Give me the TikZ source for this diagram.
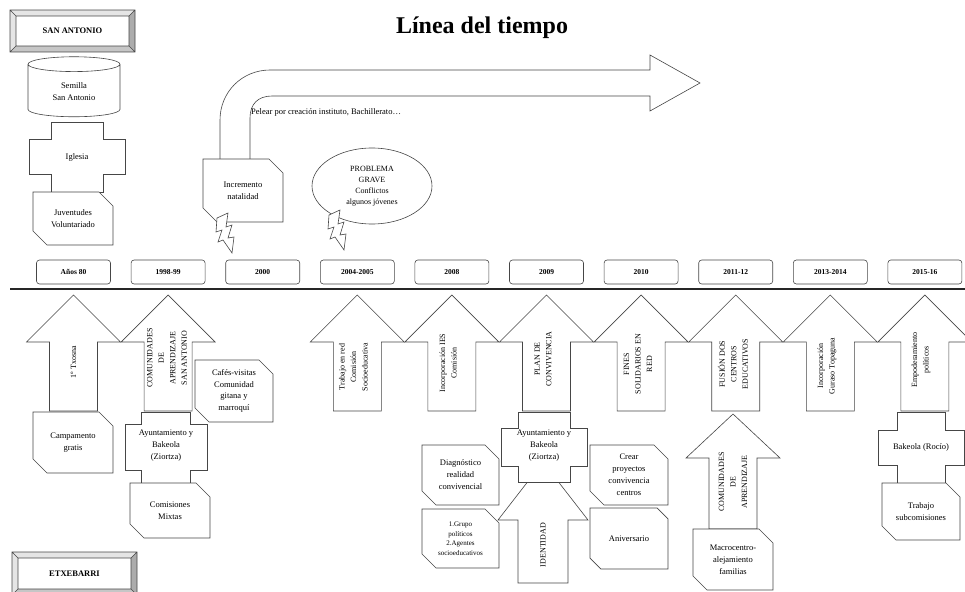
\documentclass[tikz,border=0pt]{standalone}
\usepackage{fontspec}
\setmainfont{Liberation Serif}
\usetikzlibrary{shapes.geometric, shapes.misc, positioning}
\definecolor{edgegray}{RGB}{70,70,70}

% block arrow pointing up: cx, apex, head base, bottom, head half, shaft half
\newcommand{\upblock}[6]{%
  \draw[blockline] (#1,#2) -- (#1+#5,#3) -- (#1+#6,#3) -- (#1+#6,#4) -- (#1-#6,#4) -- (#1-#6,#3) -- (#1-#5,#3) -- cycle;}
% plus-like box: cx, cy, half width, half height, stem half, arm half
\newcommand{\crossblock}[6]{%
  \draw[blockline] (#1-#5,#2-#4) -- (#1+#5,#2-#4) -- (#1+#5,#2-#6) -- (#1+#3,#2-#6) -- (#1+#3,#2+#6) -- (#1+#5,#2+#6) -- (#1+#5,#2+#4) -- (#1-#5,#2+#4) -- (#1-#5,#2+#6) -- (#1-#3,#2+#6) -- (#1-#3,#2-#6) -- (#1-#5,#2-#6) -- cycle;}
% bevelled button: name, x1, y1, x2, y2, text
\newcommand{\bevelbox}[6]{%
  \fill[gray!20] (#2,#3) rectangle (#4,#5);
  \fill[gray!65] (#4,#3) -- (#4,#5) -- (#4-6,#5-6) -- (#4-6,#3+6) -- cycle;
  \fill[gray!45] (#2,#5) -- (#4,#5) -- (#4-6,#5-6) -- (#2+6,#5-6) -- cycle;
  \fill[white] (#2+6,#3+6) rectangle (#4-6,#5-6);
  \draw[edgegray, line width=0.6pt] (#2,#3) rectangle (#4,#5) (#2+6,#3+6) rectangle (#4-6,#5-6)
    (#2,#3) -- (#2+6,#3+6) (#4,#3) -- (#4-6,#3+6) (#2,#5) -- (#2+6,#5-6) (#4,#5) -- (#4-6,#5-6);
  \node[font=\bfseries\fontsize{8.5}{10}\selectfont] (#1) at ({(#2+#4)/2},{(#3+#5)/2}) {#6};}

\begin{document}
\begin{tikzpicture}[x=1pt, y=-1pt,
    font=\fontsize{8.5}{12}\selectfont,
    blockline/.style={draw=edgegray, line width=0.6pt, fill=white},
    snipbox/.style={chamfered rectangle, chamfered rectangle corners={north east, south west}, chamfered rectangle sep=7pt, draw=edgegray, line width=0.6pt, fill=white, align=center, inner sep=1pt},
    yearbox/.style={rectangle, rounded corners=3pt, draw=edgegray, line width=0.6pt, minimum width=74pt, minimum height=24pt, font=\bfseries\fontsize{7.5}{9}\selectfont},
    vtext/.style={rotate=90, align=center, inner sep=0pt, font=\fontsize{8}{11.5}\selectfont},
    boxtext/.style={align=center, inner sep=0pt},
    bolt/.pic={\draw[blockline] (0,5) -- (11,0) -- (9,14) -- (15,12) -- (11,25) -- (17,24) -- (15,40) -- (6,27) -- (1,29) -- (5,17) -- (-1,19) -- cycle;}
]
\useasboundingbox (0,0) rectangle (965,591);

% title
\node[font=\bfseries\fontsize{24}{28}\selectfont] (title) at (482,28) {Línea del tiempo};

% San Antonio column
\bevelbox{sanantonio}{10}{10}{135}{52}{SAN ANTONIO}
\node[cylinder, shape border rotate=90, aspect=0.3, draw=edgegray, line width=0.6pt, fill=white, minimum width=92, minimum height=60, align=center] (semilla) at (74,92) {Semilla\\San Antonio};
\crossblock{77}{157}{48}{35}{26}{17.5}
\node[boxtext] (iglesia) at (77,157) {Iglesia};
\node[snipbox, minimum width=80, minimum height=53] (juventudes) at (73,218.5) {Juventudes\\Voluntariado};

% bent arrow
\draw[blockline] (220,160) -- (220,120) .. controls (220,92) and (242,70) .. (270,70) -- (650,70) -- (650,55) -- (700,83) -- (650,111) -- (650,96) -- (272,96) .. controls (258,96) and (250,104) .. (250,118) -- (250,160) -- cycle;
\node[anchor=west, inner sep=0pt] (pelear) at (251,112) {Pelear por creación instituto, Bachillerato…};
\node[snipbox, minimum width=80, minimum height=63] (natalidad) at (243,190.5) {Incremento\\natalidad};
\node[ellipse, draw=edgegray, line width=0.6pt, fill=white, minimum width=120, minimum height=76, align=center, inner sep=0pt, font=\fontsize{8}{11}\selectfont] (problema) at (372,186) {PROBLEMA\\GRAVE\\Conflictos\\algunos jóvenes};
\pic at (217,213) {bolt};
\pic at (329,210) {bolt};

% years
\foreach \yr [count=\i] in {Años 80, 1998-99, 2000, 2004-2005, 2008, 2009, 2010, 2011-12, 2013-2014, 2015-16}
  \node[yearbox] (year\i) at ({73.5+94.6*(\i-1)},272) {\yr};

% timeline
\coordinate (tlstart) at (10,289);
\coordinate (tlend) at (965,289);
\draw[line width=2.5pt, black!85] (tlstart) -- (tlend);

% arrows under the years
\foreach \i in {1,2,4,5,6,7,8,9,10}{
  \pgfmathsetmacro\cx{73.5+94.6*(\i-1)}
  \upblock{\cx}{295}{342}{411}{47}{24}
}
\node[vtext] (txosna) at (73.5,362) {1º Txosna};
\node[vtext] (comunidades1) at (167,358) {COMUNIDADES\\DE\\APRENDIZAJE\\SAN ANTONIO};
\node[vtext] (redcomision) at (353.5,367) {Trabajo en red\\Comisión\\Socioeducativa};
\node[vtext] (ies) at (448,363) {Incorporación IES\\Comisión};
\node[vtext] (plan) at (543,359) {PLAN DE\\CONVIVENCIA};
\node[vtext] (fines) at (638,364) {FINES\\SOLIDARIOS EN\\RED};
\node[vtext] (fusion) at (733,364) {FUSIÓN DOS\\CENTROS\\EDUCATIVOS};
\node[vtext] (guraso) at (827,366) {Incorporación\\Guraso Topaguna};
\node[vtext] (empoderamiento) at (921,360) {Empoderamiento\\políticos};

% Años 80 and 1998-99
\node[snipbox, minimum width=80, minimum height=61] (campamento) at (73,442.5) {Campamento\\gratis};
\crossblock{166}{447.5}{41}{35.5}{24.5}{23}
\node[boxtext] (ayto1) at (166,446) {Ayuntamiento y\\Bakeola\\(Ziortza)};
\node[snipbox, minimum width=80, minimum height=55] (comisiones) at (170,510.5) {Comisiones\\Mixtas};
\node[snipbox, minimum width=78, minimum height=62, font=\fontsize{8.5}{11.5}\selectfont] (cafes) at (234,391) {Cafés-visitas\\Comunidad\\gitana y\\marroquí};

% 2009
\upblock{543}{462}{520}{583}{45}{25}
\node[vtext] (identidad) at (543,545) {IDENTIDAD};
\crossblock{544}{447}{43}{35}{26}{19}
\node[boxtext] (ayto2) at (544,446) {Ayuntamiento y\\Bakeola\\(Ziortza)};
\node[snipbox, minimum width=77, minimum height=60] (diagnostico) at (460.5,475) {Diagnóstico\\realidad\\convivencial};
\node[snipbox, minimum width=77, minimum height=59, font=\fontsize{7}{9.5}\selectfont] (grupos) at (460.5,538.5) {1.Grupo\\políticos\\2.Agentes\\socioeducativos};
\node[snipbox, minimum width=78, minimum height=60] (crear) at (629,475) {Crear\\proyectos\\convivencia\\centros};
\node[snipbox, minimum width=78, minimum height=61] (aniversario) at (629,538.5) {Aniversario};

% 2011-12
\upblock{733}{414}{458}{529}{47}{24}
\node[vtext] (comunidades2) at (733,482) {COMUNIDADES\\DE\\APRENDIZAJE};
\node[snipbox, minimum width=80, minimum height=61] (macrocentro) at (733,559.5) {Macrocentro-\\alejamiento\\familias};

% 2015-16
\crossblock{921}{447.5}{43}{35.5}{24}{17.5}
\node[boxtext] (rocio) at (921,447.5) {Bakeola (Rocío)};
\node[snipbox, minimum width=78, minimum height=57] (subcomisiones) at (921,511.5) {Trabajo\\subcomisiones};

\bevelbox{etxebarri}{12}{552}{137}{595}{ETXEBARRI}
\end{tikzpicture}
\end{document}
